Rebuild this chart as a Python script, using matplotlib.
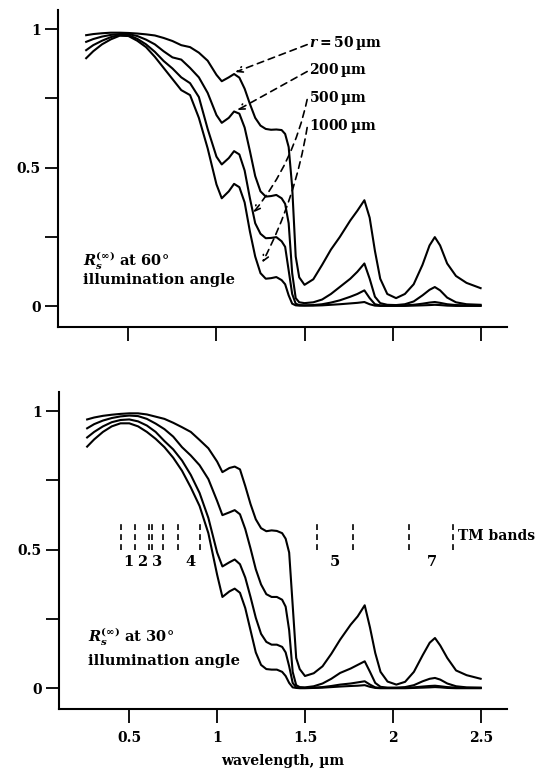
"""Reflectance of snow vs wavelength at two illumination angles."""

import matplotlib
matplotlib.use("Agg")
import matplotlib.pyplot as plt
from matplotlib.ticker import MultipleLocator

plt.rcParams["font.family"] = ["DejaVu Serif"]
plt.rcParams["font.weight"] = "bold"
plt.rcParams["mathtext.fontset"] = "dejavuserif"

# shared wavelength grid (um)
wavelength = [0.26, 0.30, 0.35, 0.40, 0.45, 0.50, 0.55, 0.60, 0.65, 0.70,
              0.75, 0.80, 0.85, 0.90, 0.95, 1.00, 1.03, 1.07, 1.10, 1.13,
              1.16, 1.19, 1.22, 1.25, 1.28, 1.31, 1.34, 1.37, 1.39, 1.41,
              1.43, 1.45, 1.47, 1.50, 1.55, 1.60, 1.65, 1.70, 1.76, 1.80,
              1.84, 1.87, 1.90, 1.93, 1.97, 2.02, 2.07, 2.12, 2.17, 2.21,
              2.24, 2.27, 2.31, 2.36, 2.42, 2.50]

grain_labels = [r"$r = $50$\,$µm", "200$\\,$µm", "500$\\,$µm", "1000$\\,$µm"]

# 60 deg illumination
r60_50 = [0.978, 0.982, 0.985, 0.987, 0.987, 0.986, 0.984, 0.981, 0.977, 0.968,
          0.957, 0.942, 0.935, 0.915, 0.886, 0.835, 0.812, 0.826, 0.838, 0.825,
          0.785, 0.730, 0.680, 0.652, 0.640, 0.637, 0.638, 0.636, 0.622, 0.575,
          0.430, 0.180, 0.105, 0.078, 0.098, 0.150, 0.205, 0.250, 0.310, 0.345,
          0.383, 0.320, 0.200, 0.100, 0.045, 0.030, 0.045, 0.080, 0.150, 0.220,
          0.250, 0.220, 0.155, 0.110, 0.085, 0.066]
r60_200 = [0.954, 0.964, 0.973, 0.979, 0.982, 0.982, 0.975, 0.962, 0.945, 0.920,
           0.898, 0.890, 0.860, 0.826, 0.770, 0.690, 0.662, 0.680, 0.703, 0.695,
           0.645, 0.560, 0.470, 0.415, 0.396, 0.398, 0.402, 0.390, 0.370, 0.300,
           0.120, 0.030, 0.015, 0.012, 0.015, 0.025, 0.045, 0.070, 0.100, 0.125,
           0.155, 0.100, 0.035, 0.012, 0.006, 0.005, 0.008, 0.018, 0.040, 0.060,
           0.070, 0.058, 0.032, 0.015, 0.008, 0.006]
r60_500 = [0.924, 0.942, 0.958, 0.971, 0.979, 0.978, 0.965, 0.945, 0.918, 0.885,
           0.858, 0.826, 0.805, 0.755, 0.640, 0.540, 0.512, 0.535, 0.560, 0.548,
           0.490, 0.390, 0.300, 0.262, 0.246, 0.247, 0.250, 0.235, 0.215, 0.130,
           0.045, 0.010, 0.005, 0.004, 0.005, 0.008, 0.014, 0.022, 0.035, 0.045,
           0.058, 0.030, 0.008, 0.004, 0.003, 0.003, 0.004, 0.006, 0.010, 0.014,
           0.016, 0.013, 0.008, 0.005, 0.004, 0.003]
r60_1000 = [0.895, 0.920, 0.945, 0.963, 0.976, 0.975, 0.958, 0.935, 0.900, 0.860,
            0.820, 0.780, 0.762, 0.680, 0.570, 0.440, 0.390, 0.415, 0.442, 0.430,
            0.375, 0.270, 0.180, 0.120, 0.100, 0.102, 0.106, 0.095, 0.080, 0.040,
            0.010, 0.004, 0.003, 0.003, 0.003, 0.004, 0.006, 0.008, 0.011, 0.013,
            0.016, 0.008, 0.003, 0.002, 0.002, 0.002, 0.002, 0.003, 0.004, 0.005,
            0.006, 0.005, 0.003, 0.002, 0.002, 0.002]

# 30 deg illumination
r30_50 = [0.970, 0.977, 0.983, 0.987, 0.990, 0.992, 0.992, 0.988, 0.980, 0.972,
          0.958, 0.942, 0.925, 0.896, 0.866, 0.818, 0.780, 0.795, 0.800, 0.790,
          0.730, 0.665, 0.610, 0.578, 0.567, 0.570, 0.568, 0.560, 0.540, 0.490,
          0.300, 0.110, 0.070, 0.045, 0.055, 0.080, 0.125, 0.176, 0.230, 0.260,
          0.300, 0.220, 0.128, 0.060, 0.025, 0.014, 0.024, 0.060, 0.120, 0.165,
          0.182, 0.155, 0.110, 0.065, 0.048, 0.035]
r30_200 = [0.938, 0.953, 0.966, 0.975, 0.981, 0.984, 0.982, 0.972, 0.955, 0.935,
           0.908, 0.870, 0.840, 0.805, 0.755, 0.676, 0.625, 0.635, 0.643, 0.628,
           0.575, 0.505, 0.430, 0.375, 0.340, 0.330, 0.330, 0.320, 0.295, 0.210,
           0.060, 0.012, 0.005, 0.004, 0.008, 0.018, 0.035, 0.056, 0.072, 0.085,
           0.098, 0.060, 0.020, 0.006, 0.003, 0.003, 0.005, 0.012, 0.026, 0.035,
           0.038, 0.032, 0.018, 0.008, 0.004, 0.003]
r30_500 = [0.905, 0.925, 0.945, 0.960, 0.968, 0.970, 0.963, 0.948, 0.925, 0.892,
           0.862, 0.822, 0.770, 0.705, 0.615, 0.490, 0.440, 0.455, 0.465, 0.448,
           0.400, 0.330, 0.255, 0.197, 0.168, 0.158, 0.158, 0.150, 0.130, 0.080,
           0.020, 0.004, 0.002, 0.002, 0.003, 0.005, 0.009, 0.014, 0.018, 0.022,
           0.026, 0.014, 0.004, 0.002, 0.002, 0.002, 0.002, 0.004, 0.007, 0.009,
           0.010, 0.008, 0.005, 0.003, 0.002, 0.002]
r30_1000 = [0.872, 0.898, 0.925, 0.945, 0.956, 0.956, 0.945, 0.925, 0.900, 0.870,
            0.832, 0.785, 0.725, 0.658, 0.560, 0.410, 0.330, 0.350, 0.360, 0.345,
            0.290, 0.210, 0.130, 0.085, 0.070, 0.068, 0.068, 0.060, 0.045, 0.020,
            0.004, 0.002, 0.001, 0.001, 0.002, 0.003, 0.005, 0.007, 0.009, 0.010,
            0.012, 0.006, 0.002, 0.001, 0.001, 0.001, 0.001, 0.002, 0.003, 0.004,
            0.005, 0.004, 0.002, 0.001, 0.001, 0.001]

# Landsat TM band edges (um) and band labels
tm_edges = [0.45, 0.53, 0.61, 0.63, 0.69, 0.78, 0.90, 1.57, 1.775, 2.09, 2.345]
tm_names = ["1", "2", "3", "4", "5", "7"]
tm_label_x = [0.496, 0.575, 0.655, 0.848, 1.67, 2.22]

FS = 10


def style_axes(ax):
    ax.set_xlim(0.10, 2.65)
    ax.set_ylim(-0.074, 1.069)
    for side in ["top", "right"]:
        ax.spines[side].set_visible(False)
    for side in ["left", "bottom"]:
        ax.spines[side].set_linewidth(1.5)
    ax.xaxis.set_major_locator(MultipleLocator(0.5))
    ax.yaxis.set_major_locator(MultipleLocator(0.5))
    ax.yaxis.set_minor_locator(MultipleLocator(0.25))
    ax.tick_params(axis="x", which="major", direction="out", length=10,
                   width=1.3, pad=6, labelsize=FS)
    ax.tick_params(axis="y", which="both", direction="out", length=9.5,
                   width=1.3, pad=3, labelsize=FS)
    ax.set_yticks([0, 0.5, 1])
    ax.set_yticklabels(["0", "0.5", "1"])


def plot_curves(ax, curves):
    for ys in curves:
        ax.plot(wavelength, ys, color="black", linewidth=1.5,
                solid_joinstyle="round")


fig = plt.figure(figsize=(5.44, 7.71), dpi=100)
ax1 = fig.add_axes([0.1066, 0.5759, 0.8254, 0.4112])
ax2 = fig.add_axes([0.1085, 0.0804, 0.8235, 0.4112])

# --- top: 60 deg
plot_curves(ax1, [r60_50, r60_200, r60_500, r60_1000])
style_axes(ax1)
ax1.tick_params(axis="x", labelbottom=False)

label_y = [0.949, 0.852, 0.751, 0.650]
arrow_tips = [(1.108, 0.845), (1.119, 0.708), (1.21, 0.339), (1.261, 0.159)]
arrow_rad = [0.0, 0.0, -0.12, -0.08]
for lab, ly, tip, rad in zip(grain_labels, label_y, arrow_tips, arrow_rad):
    ax1.text(1.528, ly, lab, fontsize=FS, fontweight="bold", va="center",
             ha="left")
    ax1.annotate("", xy=tip, xytext=(1.515, ly - 0.005),
                 arrowprops=dict(arrowstyle="->", color="black", lw=1.2,
                                 linestyle=(0, (4, 3)), shrinkA=0, shrinkB=0,
                                 connectionstyle=f"arc3,rad={rad}"))

ax1.text(0.244, 0.166, r"$\mathbfit{R}_{\mathbfit{s}}^{(\infty)}$ at 60°",
         fontsize=FS + 0.5, fontweight="bold", va="center")
ax1.text(0.244, 0.094, "illumination angle", fontsize=FS + 0.5,
         fontweight="bold", va="center")

# --- bottom: 30 deg
plot_curves(ax2, [r30_50, r30_200, r30_500, r30_1000])
style_axes(ax2)
ax2.set_xticks([0.5, 1, 1.5, 2, 2.5])
ax2.set_xticklabels(["0.5", "1", "1.5", "2", "2.5"])
ax2.set_xlabel("wavelength, µm", fontsize=FS, fontweight="bold", labelpad=6)

ax2.vlines(tm_edges, 0.5, 0.6, colors="black", linewidth=1.2,
           linestyles=(0, (3.5, 2.5)))
for name, lx in zip(tm_names, tm_label_x):
    ax2.text(lx, 0.455, name, fontsize=FS + 0.5, fontweight="bold",
             ha="center", va="center")
ax2.text(2.37, 0.55, "TM bands", fontsize=FS, fontweight="bold",
         ha="left", va="center")

ax2.text(0.265, 0.188, r"$\mathbfit{R}_{\mathbfit{s}}^{(\infty)}$ at 30°",
         fontsize=FS + 0.5, fontweight="bold", va="center")
ax2.text(0.265, 0.10, "illumination angle", fontsize=FS + 0.5,
         fontweight="bold", va="center")

fig.savefig("out.png", dpi=100)
